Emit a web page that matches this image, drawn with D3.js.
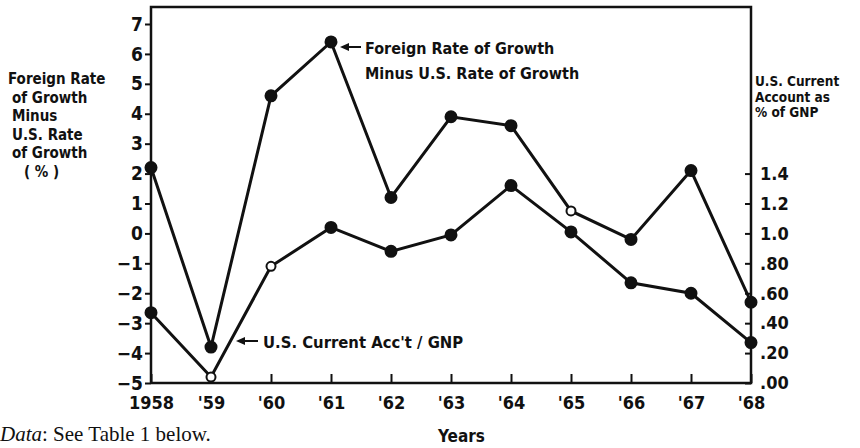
<!DOCTYPE html>
<html>
<head>
<meta charset="utf-8">
<script src="https://cdn.jsdelivr.net/npm/d3@7"></script>
<style>
  body { margin: 0; background: #fff; }
  text { font-family: "Liberation Sans Narrow", "DejaVu Sans Condensed", sans-serif; fill: #111; }
</style>
</head>
<body>
<script>
// data
var years = [1958, 1959, 1960, 1961, 1962, 1963, 1964, 1965, 1966, 1967, 1968];
var yearLabels = ["1958", "'59", "'60", "'61", "'62", "'63", "'64", "'65", "'66", "'67", "'68"];
var growthDiff = [2.2, -3.8, 4.6, 6.4, 1.2, 3.9, 3.6, 0.75, -0.2, 2.1, -2.3];
var growthOpen = [false, false, false, false, false, false, false, true, false, false, false];
var currentAcct = [0.47, 0.04, 0.78, 1.04, 0.88, 0.99, 1.32, 1.01, 0.67, 0.60, 0.27];
var acctOpen = [false, true, true, false, false, false, false, false, false, false, false];
var leftTicks = [-5, -4, -3, -2, -1, 0, 1, 2, 3, 4, 5, 6, 7];
var rightTicks = [0, 0.2, 0.4, 0.6, 0.8, 1.0, 1.2, 1.4];
var rightTickLabels = [".00", ".20", ".40", ".60", ".80", "1.0", "1.2", "1.4"];

var svg = d3.select("body")
    .append("svg")
    .attr("width", 860)
    .attr("height", 448);

var x = d3.scaleLinear().domain([1958, 1968]).range([151, 751]);
var yL = d3.scaleLinear().domain([-5, 7]).range([383, 24]);
var yR = d3.scaleLinear().domain([0, 2.4]).range([383, 24]);
var frameTop = 7;

// frame: left axis, top, right axis, bottom
svg.append("path")
    .attr("d", "M" + x(1958) + "," + yL(-5) + "V" + frameTop + "H" + x(1968) + "V" + yL(-5) + "H" + x(1958))
    .attr("fill", "none")
    .attr("stroke", "#111")
    .attr("stroke-width", 2.5);

// left axis
var gL = svg.append("g")
    .attr("transform", "translate(" + x(1958) + ",0)")
    .call(d3.axisLeft(yL).tickValues(leftTicks).tickSize(6).tickPadding(2));
gL.select(".domain").remove();
gL.selectAll("line").attr("stroke", "#111").attr("stroke-width", 2);
gL.selectAll("text").attr("font-size", 19).attr("font-weight", "bold").attr("fill", "#111");

// right axis (ticks inward)
var gR = svg.append("g")
    .attr("transform", "translate(" + x(1968) + ",0)")
    .call(d3.axisRight(yR).tickValues(rightTicks).tickSize(-6).tickPadding(9)
        .tickFormat(function (d, i) { return rightTickLabels[i]; }));
gR.select(".domain").remove();
gR.selectAll("line").attr("stroke", "#111").attr("stroke-width", 2);
gR.selectAll("text").attr("font-size", 18).attr("font-weight", "bold").attr("fill", "#111");

// bottom axis (ticks inward)
var gB = svg.append("g")
    .attr("transform", "translate(0," + yL(-5) + ")")
    .call(d3.axisBottom(x).tickValues(years).tickSize(-9).tickPadding(13)
        .tickFormat(function (d, i) { return yearLabels[i]; }));
gB.select(".domain").remove();
gB.selectAll("line").attr("stroke", "#111").attr("stroke-width", 2);
gB.selectAll("text").attr("font-size", 18).attr("font-weight", "bold").attr("fill", "#111");

// series
var lineL = d3.line().x(function (d, i) { return x(years[i]); }).y(function (d) { return yL(d); });
var lineR = d3.line().x(function (d, i) { return x(years[i]); }).y(function (d) { return yR(d); });

svg.append("path").datum(growthDiff)
    .attr("d", lineL).attr("fill", "none").attr("stroke", "#111").attr("stroke-width", 3);
svg.append("path").datum(currentAcct)
    .attr("d", lineR).attr("fill", "none").attr("stroke", "#111").attr("stroke-width", 3);

svg.selectAll(".ptL").data(growthDiff).enter().append("circle")
    .attr("cx", function (d, i) { return x(years[i]); })
    .attr("cy", function (d) { return yL(d); })
    .attr("r", function (d, i) { return growthOpen[i] ? 4.5 : 5.5; })
    .attr("fill", function (d, i) { return growthOpen[i] ? "#fff" : "#111"; })
    .attr("stroke", "#111").attr("stroke-width", 2);

svg.selectAll(".ptR").data(currentAcct).enter().append("circle")
    .attr("cx", function (d, i) { return x(years[i]); })
    .attr("cy", function (d) { return yR(d); })
    .attr("r", function (d, i) { return acctOpen[i] ? 4.5 : 5.5; })
    .attr("fill", function (d, i) { return acctOpen[i] ? "#fff" : "#111"; })
    .attr("stroke", "#111").attr("stroke-width", 2);

// arrow labels
function arrow(x1, x2, yy) {
    svg.append("line").attr("x1", x1 + 6).attr("x2", x2).attr("y1", yy).attr("y2", yy)
        .attr("stroke", "#111").attr("stroke-width", 2);
    svg.append("path")
        .attr("d", "M" + x1 + "," + yy + "l9,-4v8z")
        .attr("fill", "#111");
}
arrow(x(1961) + 9, x(1961) + 30, 47);
svg.append("text").attr("x", x(1961) + 34).attr("y", 54).attr("font-size", 16).attr("font-weight", "bold")
    .text("Foreign Rate of Growth");
svg.append("text").attr("x", x(1961) + 34).attr("y", 79).attr("font-size", 16).attr("font-weight", "bold")
    .text("Minus U.S. Rate of Growth");

arrow(236, 258, 341);
svg.append("text").attr("x", 263).attr("y", 348).attr("font-size", 16.5).attr("font-weight", "bold")
    .text("U.S. Current Acc't / GNP");

// left axis title
var leftTitle = [["Foreign Rate", 8], ["of Growth", 12], ["Minus", 12], ["U.S. Rate", 12], ["of Growth", 12], ["( % )", 24]];
leftTitle.forEach(function (t, i) {
    svg.append("text").attr("x", t[1]).attr("y", 84 + i * 18.5)
        .attr("font-size", 15).attr("font-weight", "bold").text(t[0]);
});

// right axis title
var rightTitle = ["U.S. Current", "Account as", "% of GNP"];
rightTitle.forEach(function (t, i) {
    svg.append("text").attr("x", 755).attr("y", 86 + i * 15.5)
        .attr("font-size", 13.5).attr("font-weight", "bold").text(t);
});

svg.append("text").attr("x", 438).attr("y", 442).attr("font-size", 17).attr("font-weight", "bold").text("Years");

var note = svg.append("text").attr("x", 0).attr("y", 441).attr("font-size", 21)
    .style("font-family", "'Liberation Serif', serif");
note.append("tspan").attr("font-style", "italic").text("Data");
note.append("tspan").text(": See Table 1 below.");
</script>
</body>
</html>
